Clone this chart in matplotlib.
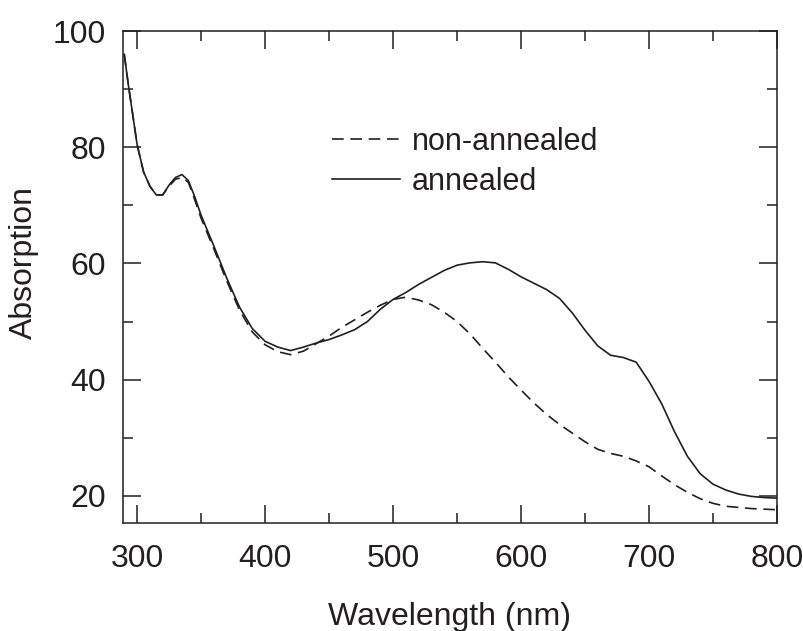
import numpy as np
import matplotlib
matplotlib.use("Agg")
import matplotlib.pyplot as plt

plt.rcParams['font.family'] = ['Liberation Sans', 'DejaVu Sans']

# --- datos ---
wl_annealed = [290, 293, 296, 300, 305, 310, 315, 320, 325, 330, 335, 340, 345, 350,
               360, 370, 380, 390, 400, 410, 420, 430, 440, 450, 460, 470, 480, 490,
               500, 510, 520, 530, 540, 550, 560, 570, 580, 590, 600, 610, 620, 630,
               640, 650, 660, 670, 680, 690, 700, 710, 720, 730, 740, 750, 760, 770,
               780, 790, 800]
abs_annealed = [96.0, 91.0, 86.5, 80.5, 75.8, 73.3, 71.8, 71.8, 73.5, 74.8, 75.3, 74.3, 71.5, 68.3,
                63.0, 57.5, 52.5, 48.8, 46.6, 45.6, 45.0, 45.6, 46.3, 46.9, 47.7, 48.6, 50.0, 52.1,
                53.8, 55.0, 56.4, 57.6, 58.8, 59.7, 60.1, 60.3, 60.1, 59.0, 57.7, 56.6, 55.5, 54.0,
                51.5, 48.5, 45.8, 44.2, 43.8, 43.0, 39.7, 35.8, 31.0, 26.8, 23.8, 22.0, 21.0, 20.3,
                19.9, 19.7, 19.6]

wl_non_annealed = [290, 293, 296, 300, 305, 310, 315, 320, 325, 330, 335, 340, 345, 350,
                   360, 370, 380, 390, 400, 410, 420, 430, 440, 450, 460, 470, 480, 490,
                   500, 510, 520, 530, 540, 550, 560, 570, 580, 590, 600, 610, 620, 630,
                   640, 650, 660, 670, 680, 690, 700, 710, 720, 730, 740, 750, 760, 770,
                   780, 790, 800]
abs_non_annealed = [96.0, 91.0, 86.5, 80.5, 75.8, 73.3, 71.8, 71.8, 73.3, 74.5, 74.8, 74.0, 71.0, 67.8,
                    62.5, 57.0, 52.0, 48.2, 46.0, 44.8, 44.3, 44.9, 46.2, 47.5, 49.0, 50.3, 51.6, 52.8,
                    53.8, 54.2, 53.7, 52.9, 51.6, 50.0, 47.9, 45.4, 43.0, 40.5, 38.2, 36.0, 34.0, 32.3,
                    30.8, 29.3, 28.0, 27.3, 26.8, 26.0, 25.0, 23.4, 21.9, 20.6, 19.5, 18.7, 18.2, 18.0,
                    17.8, 17.7, 17.6]

COLOR = '#231f20'

fig = plt.figure(figsize=(8.04, 6.31), dpi=100)
ax = fig.add_axes([0.153, 0.171, 0.8134, 0.7797])

ax.plot(wl_non_annealed, abs_non_annealed, color=COLOR, lw=1.2, dashes=(7, 4),
        label='non-annealed')
ax.plot(wl_annealed, abs_annealed, color=COLOR, lw=1.2, label='annealed')

ax.set_xlim(289, 800)
ax.set_ylim(15.3, 100)
ax.set_xticks([300, 400, 500, 600, 700, 800])
ax.set_xticks([350, 450, 550, 650, 750], minor=True)
ax.set_yticks([20, 40, 60, 80, 100])
ax.set_yticks([30, 50, 70, 90], minor=True)

ax.tick_params(which='both', direction='in', top=True, right=True,
               width=1.1, color=COLOR, labelsize=23, labelcolor=COLOR)
ax.tick_params(which='major', length=13, pad=12)
ax.tick_params(axis='x', which='major', pad=15)
ax.tick_params(which='minor', length=7)
for s in ax.spines.values():
    s.set_linewidth(1.1)
    s.set_color(COLOR)

ax.set_xlabel('Wavelength (nm)', fontsize=23, color=COLOR, labelpad=20)
ax.set_ylabel('Absorption', fontsize=23, color=COLOR)
ax.yaxis.set_label_coords(-0.128, 0.53)

ax.legend(loc='upper left', bbox_to_anchor=(0.32, 0.805), frameon=False,
          fontsize=22, handlelength=2.2, handletextpad=0.4, labelspacing=0.33,
          borderpad=0, borderaxespad=0, labelcolor=COLOR)

fig.savefig('out.png', dpi=100)
